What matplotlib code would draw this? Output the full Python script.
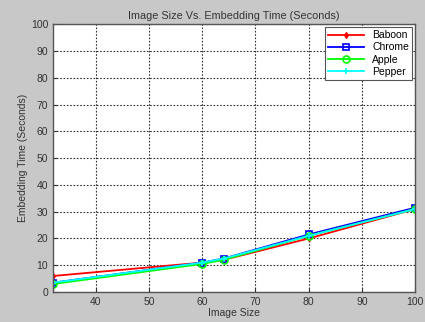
import matplotlib
matplotlib.use("Agg")
import matplotlib.pyplot as plt

sizes = [32, 60, 64, 80, 100]
baboon = [6.0, 11.0, 12.0, 20.0, 31.0]
chrome = [3.5, 11.0, 12.5, 21.5, 31.5]
apple = [3.0, 10.5, 12.0, 21.0, 31.0]
pepper = [3.5, 11.0, 12.5, 21.0, 31.0]
xticks = [40, 50, 60, 70, 80, 90, 100]
yticks = [0, 10, 20, 30, 40, 50, 60, 70, 80, 90, 100]

plt.rcParams['font.family'] = ['Liberation Sans', 'DejaVu Sans']
fig = plt.figure(figsize=(4.25, 3.22), dpi=100, facecolor='#c8c8c8')
ax = fig.add_axes([0.125, 0.093, 0.852, 0.832])
ax.set_facecolor('white')

ax.plot(sizes, baboon, color='red', marker='d', markersize=3, lw=1.3, label='Baboon')
ax.plot(sizes, chrome, color='blue', marker='s', markersize=5, mfc='none', mew=1.2, lw=1.3, label='Chrome')
ax.plot(sizes, apple, color='#00ff00', marker='o', markersize=5, mfc='none', mew=1.2, lw=1.3, label='Apple')
ax.plot(sizes, pepper, color='cyan', marker='+', markersize=5, mew=1.2, lw=1.3, label='Pepper')

ax.set_xlim(32, 100)
ax.set_ylim(0, 100)
ax.set_xticks(xticks)
ax.set_yticks(yticks)
ax.tick_params(direction='in', labelsize=7.5, length=3, colors='#333333')
ax.grid(True, linestyle=(0, (1.5, 1.5)), color='#333333', lw=0.8)
for s in ax.spines.values():
    s.set_color('#555555')
    s.set_linewidth(1)

ax.set_title('Image Size Vs. Embedding Time (Seconds)', fontsize=7.8, color='#333333', pad=4)
ax.set_xlabel('Image Size', fontsize=7.5, color='#333333', labelpad=1)
ax.set_ylabel('Embedding Time (Seconds)', fontsize=7.5, color='#333333', labelpad=2)

leg = ax.legend(loc='upper right', fontsize=7.5, fancybox=False, framealpha=1,
                edgecolor='#555555', handlelength=3.4, borderpad=0.3, labelspacing=0.2,
                borderaxespad=0.3)
leg.get_frame().set_linewidth(0.8)

fig.savefig('out.png', dpi=100, facecolor=fig.get_facecolor())
